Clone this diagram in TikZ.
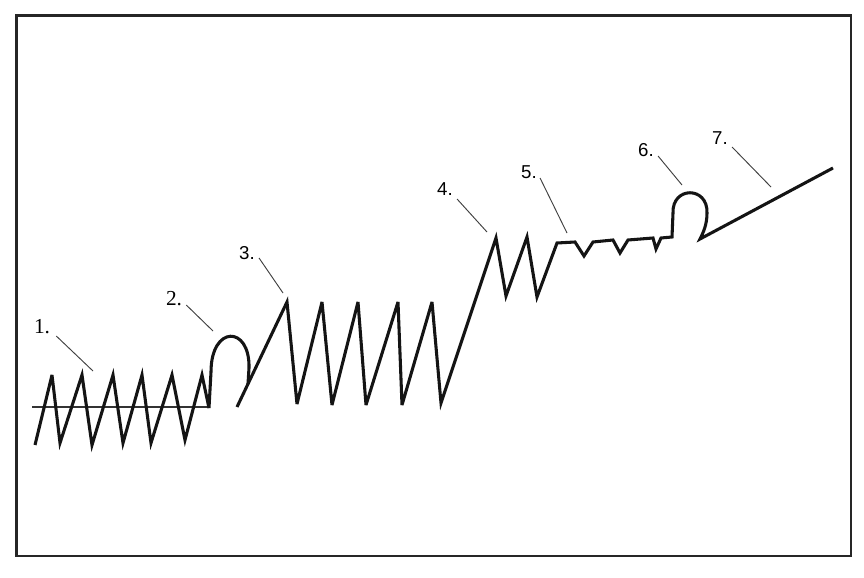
\documentclass[tikz,border=0pt]{standalone}
\usepackage{fontspec}
\setmainfont{Liberation Serif}
\newfontfamily\lblsans{Liberation Sans}
\begin{document}
\begin{tikzpicture}[x=0.75pt,y=-0.75pt,
  wave/.style={line width=2.3pt,color=black!92,miter limit=5},
  baseline/.style={line width=1.1pt,color=black!80},
  leader/.style={line width=0.7pt,color=black!75},
  frame/.style={line width=1.6pt,color=black!85},
  lblserif/.style={inner sep=0pt,font=\fontsize{16}{16}\selectfont},
  lblsansst/.style={inner sep=0pt,font=\lblsans\fontsize{14}{14}\selectfont}]
\useasboundingbox (0,0) rectangle (864,578);
\fill[white] (0,0) rectangle (864,578);
\draw[frame] (16.5,15.5) rectangle (851,556);

% reference line of section 1
\draw[baseline] (32,407) -- (210,407);

% section 1 zigzag and loop 2
\draw[wave] (35,445) -- (52,375) -- (60,443) -- (82,375) -- (92,445)
  -- (113,375) -- (123,443) -- (142,375) -- (151,443) -- (172,375)
  -- (185,440) -- (202,375) -- (209,408) -- (211,372)
  .. controls (211,325) and (250,325) .. (249,368) -- (248,384);

% sections 3 to 7
\draw[wave] (237,407) -- (287,302) -- (297,404) -- (322,302) -- (332,405)
  -- (358,302) -- (366,405) -- (398,302) -- (402,405) -- (432,302)
  -- (441,403) -- (496,238) -- (506,296) -- (527,237) -- (537,297)
  -- (557,243) -- (575,242) -- (584,256) -- (593,242) -- (613,240)
  -- (620,253) -- (628,240) -- (653,238) -- (656,249) -- (661,238)
  -- (672,237) -- (673,213)
  .. controls (672,186) and (708,186) .. (707,213)
  .. controls (707,225) and (703,233) .. (700,239) -- (833,168);

% labels
\node[lblserif] (l1) at (42,327) {1.};
\node[lblserif] (l2) at (174,299) {2.};
\node[lblsansst] (l3) at (247,253) {3.};
\node[lblsansst] (l4) at (445,189) {4.};
\node[lblsansst] (l5) at (529,172) {5.};
\node[lblsansst] (l6) at (646,150) {6.};
\node[lblsansst] (l7) at (720,138) {7.};

% leader ends
\coordinate (e1) at (93,371);
\coordinate (e2) at (213,331);
\coordinate (e3) at (283,293);
\coordinate (e4) at (487,232);
\coordinate (e5) at (567,233);
\coordinate (e6) at (682,185);
\coordinate (e7) at (771,187);

\draw[leader] (l1.east) ++(6,9) coordinate (s1) -- (e1);
\draw[leader] (l2.east) ++(4,6) coordinate (s2) -- (e2);
\draw[leader] (l3.east) ++(4,5) coordinate (s3) -- (e3);
\draw[leader] (l4.east) ++(4,10) coordinate (s4) -- (e4);
\draw[leader] (l5.east) ++(3,6) coordinate (s5) -- (e5);
\draw[leader] (l6.east) ++(4,6) coordinate (s6) -- (e6);
\draw[leader] (l7.east) ++(4,9) coordinate (s7) -- (e7);
\end{tikzpicture}
\end{document}
